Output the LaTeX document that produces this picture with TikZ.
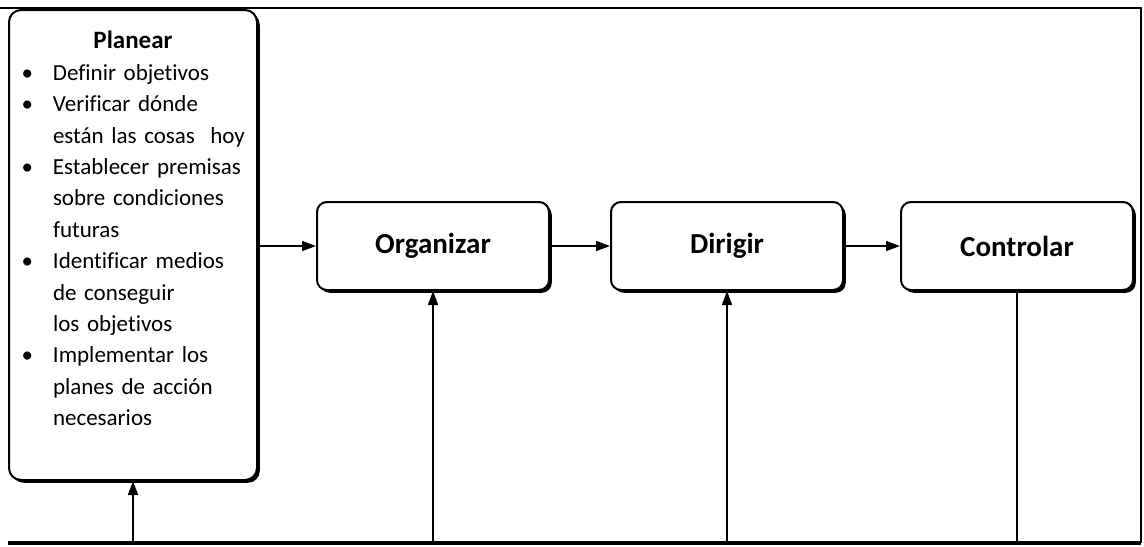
\documentclass[tikz,border=0pt]{standalone}
\usepackage{fontspec}
\setmainfont{Carlito}[Ligatures=NoCommon]
\usepackage{tikz}
\usetikzlibrary{positioning,arrows.meta,shadows}

\newcommand{\punto}{\noindent\llap{\textbullet\hspace{10pt}}}

\tikzset{
  caja/.style={draw, line width=1pt, rounded corners=5pt, fill=white,
               drop shadow={shadow xshift=1.4pt, shadow yshift=-1.4pt, opacity=1, fill=black},
               minimum width=116pt, minimum height=44pt,
               font=\fontsize{14.5}{16}\selectfont\bfseries},
  flecha/.style={-{Triangle[length=7pt,width=5pt]}, line width=0.8pt},
  linea/.style={line width=0.8pt},
}

\begin{document}
\begin{tikzpicture}[x=0.5pt,y=-0.5pt]
  \useasboundingbox (0,0) rectangle (1144,546);
  \coordinate (esqSup) at (0,8);
  \coordinate (esqDer) at (1141,8);
  \coordinate (esqIzq) at (8,543);
  \coordinate (base) at (1141,543);
  \draw[line width=1pt] (esqSup) -- (esqDer) -- (base);
  \draw[line width=1.6pt] (esqIzq) -- (base);

  \node[caja, rounded corners=6pt, minimum width=124pt, minimum height=235pt] (planear) at (133,245) {};
  \node[anchor=north, text width=116pt, inner sep=0pt, yshift=-11pt,
        font=\fontsize{11.5}{15.7}\selectfont] (lista) at (planear.north)
  {{\centering\textbf{\fontsize{12.5}{15.7}\selectfont Planear}\par}
   \raggedright\leftskip=18pt
   \punto Definir objetivos\par
   \punto Verificar dónde\\ están las cosas\ \ hoy\par
   \punto Establecer premisas\\ sobre condiciones\\ futuras\par
   \punto Identificar medios\\ de conseguir\\ los objetivos\par
   \punto Implementar los\\ planes de acción\\ necesarios\par};

  \node[caja] (organizar) at (433,246) {Organizar};
  \node[caja, right=30pt of organizar] (dirigir) {Dirigir};
  \node[caja, right=28pt of dirigir] (controlar) {Controlar};

  \draw[flecha] (planear.east |- organizar) -- (organizar);
  \draw[flecha] (organizar) -- (dirigir);
  \draw[flecha] (dirigir) -- (controlar);

  \draw[linea] (controlar.south) -- (controlar.south |- base);
  \draw[flecha] (organizar.south |- base) -- (organizar.south);
  \draw[flecha] (dirigir.south |- base) -- (dirigir.south);
  \draw[flecha] (planear.south |- base) -- (planear.south);
\end{tikzpicture}
\end{document}
